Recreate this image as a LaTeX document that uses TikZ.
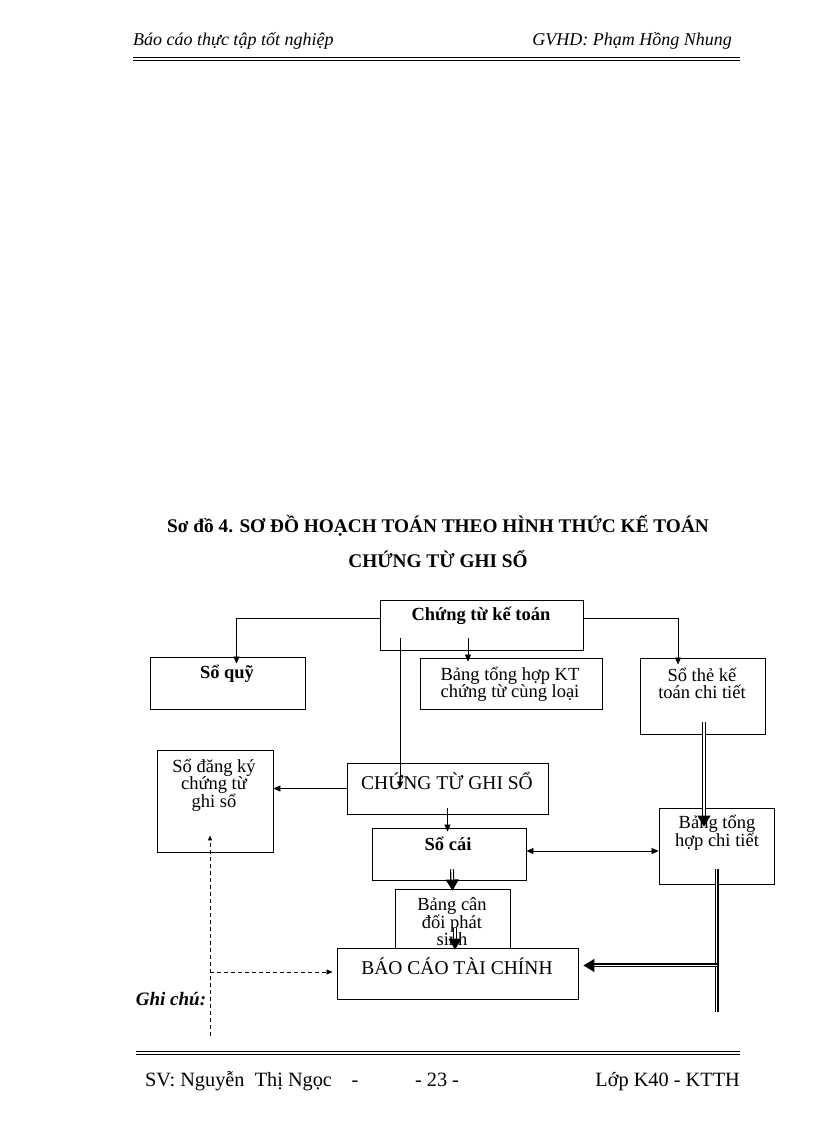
\documentclass[tikz,border=0pt]{standalone}
\usepackage{fontspec}
\setmainfont{Liberation Serif}
\usetikzlibrary{arrows.meta,calc}
\begin{document}
\begin{tikzpicture}[x=1pt,y=-1pt,
  box/.style={draw, line width=0.9pt, inner sep=0pt, fill=white},
  txt/.style={font=\fontsize{18.5}{17}\selectfont, align=center, inner sep=0pt},
  btxt/.style={font=\fontsize{18.5}{17}\selectfont\bfseries, align=center, inner sep=0pt},
  big/.style={font=\fontsize{19.5}{20}\selectfont, align=center, inner sep=0pt},
  arr/.style={line width=0.8pt, -{Triangle[length=7pt,width=6pt]}},
  arrb/.style={line width=0.8pt, {Triangle[length=7pt,width=6pt]}-{Triangle[length=7pt,width=6pt]}},
  dline/.style={double, double distance=1.6pt, line width=1.2pt},
  darr/.style={dline, -{Triangle[length=11pt,width=13pt]}},
  dsh/.style={line width=0.8pt, dash pattern=on 4pt off 3pt},
  hdr/.style={font=\fontsize{18}{20}\selectfont\itshape, inner sep=0pt},
  ftr/.style={font=\fontsize{20.3}{22}\selectfont, inner sep=0pt, anchor=base},
  ttl/.style={font=\fontsize{19.3}{22}\selectfont\bfseries, inner sep=0pt}
]
\useasboundingbox (0,0) rectangle (816,1123);

% header
\node[hdr, anchor=west] (h1) at (133,41) {Báo cáo thực tập tốt nghiệp};
\node[hdr, anchor=east] (h2) at (732,41) {GVHD: Phạm Hồng Nhung};
\draw[line width=1.6pt] (133,57.5) -- (740,57.5);
\draw[line width=1pt] (133,60.8) -- (740,60.8);

% title
\node[ttl] (t1) at (438,526) {Sơ đồ 4. SƠ ĐỒ HOẠCH TOÁN THEO HÌNH THỨC KẾ TOÁN};
\node[ttl] (t2) at (438,559) {CHỨNG TỪ GHI SỔ};

% boxes
\node[box, minimum width=203pt, minimum height=50pt] (ctkt) at (481.5,625) {};
\node[box, minimum width=155pt, minimum height=52pt] (sq) at (227.5,683) {};
\node[box, minimum width=182pt, minimum height=51pt] (bth) at (511,683.5) {};
\node[box, minimum width=125pt, minimum height=76pt] (st) at (702.5,696) {};
\node[box, minimum width=116pt, minimum height=102pt] (sdk) at (215,801) {};
\node[box, minimum width=201pt, minimum height=51pt] (ctgs) at (447.5,788.5) {};
\node[box, minimum width=154pt, minimum height=52pt] (sc) at (449,854) {};
\node[box, minimum width=115pt, minimum height=76pt] (bthct) at (716.5,846) {};
\node[box, minimum width=115pt, minimum height=59pt] (bcd) at (452.5,918.5) {};
\node[box, minimum width=241pt, minimum height=51pt] (bctc) at (457.5,973.5) {};

% texts
\node[btxt] (x1) at (481,616) {Chứng từ kế toán};
\node[btxt] (x2) at (227,674) {Sổ quỹ};
\node[txt] (x3) at (510,684) {Bảng tổng hợp KT\\chứng từ cùng loại};
\node[txt] (x4) at (702,683) {Sổ thẻ kế\\toán chi tiết};
\node[txt] (x5) at (214,785) {Sổ đăng ký\\chứng từ\\ghi sổ};
\node[big] (x6) at (447,781) {CHỨNG TỪ GHI SỔ};
\node[btxt] (x7) at (448,844) {Sổ cái};
\node[txt] (x8) at (717,833) {Bảng tổng\\hợp chi tiết};
\node[txt] (x9) at (452,921.5) {Bảng cân\\đối phát\\sinh};
\node[big] (x10) at (457,966) {BÁO CÁO TÀI CHÍNH};

% connectors
\draw[arr] ([yshift=7pt]ctkt.west) -| ([xshift=9pt,yshift=-7pt]sq.north);
\draw[arr] ([yshift=7pt]ctkt.east) -| ([xshift=-24.5pt,yshift=-7pt]st.north);
\draw[arr] ([xshift=-43pt,yshift=20pt]bth.north) -- ([xshift=-43pt,yshift=-4pt]bth.north);
\draw[arr] ([xshift=-81.5pt,yshift=12pt]ctkt.south) -- ([xshift=-47.5pt,yshift=-26pt]ctgs.north);
\draw[arr] (ctgs.west) -- (ctgs.west -| sdk.east);
\draw[arr] ([yshift=6pt]ctgs.south) -- ([xshift=-1.5pt,yshift=-4pt]sc.north);
\draw[arrb] ([yshift=3pt]sc.east) -- ([yshift=3pt]sc.east -| bthct.west);
\draw[darr] ([xshift=1.5pt,yshift=12pt]st.south) -- ([xshift=-12.5pt,yshift=-19pt]bthct.north);
\coordinate (j) at ([yshift=-81pt]bthct.south);
\coordinate (e) at ([yshift=-128pt]bthct.south);
\draw[dline] ([yshift=15pt]bthct.south) -- (e);
\draw[darr] (j) -- ($(j -| bctc.east)+(5,0)$);
\draw[darr] ([xshift=3pt,yshift=11pt]sc.south) -- ([yshift=-2pt]bcd.north);
\draw[darr] ([xshift=2.5pt,yshift=-9.5pt]bcd.center) -- ([xshift=-2.5pt,yshift=-2pt]bctc.north);

% dashed legend lines
\coordinate (d1) at (210,1036);
\coordinate (d2) at (210,972);
\draw[dsh, -{Triangle[length=5pt,width=4pt]}] (d1) -- ([xshift=-5pt,yshift=17pt]sdk.south);
\draw[dsh, -{Triangle[length=6pt,width=5pt]}] (d2) -- ($(d2 -| bctc.west)+(-4,0)$);
\node[font=\fontsize{19}{22}\selectfont\bfseries\itshape, inner sep=0pt] (gc) at (171,999) {Ghi chú:};

% footer
\draw[line width=1.6pt] (136,1051.5) -- (740,1051.5);
\draw[line width=1pt] (136,1054.8) -- (740,1054.8);
\node[ftr, anchor=base west] (f1) at (145,1086) {SV: Nguyễn\ \ Thị Ngọc};
\node[ftr] (f2) at (355,1086) {-};
\node[ftr] (f3) at (437,1086) {- 23 -};
\node[ftr, anchor=base east] (f4) at (740,1086) {Lớp K40 - KTTH};
\end{tikzpicture}
\end{document}
